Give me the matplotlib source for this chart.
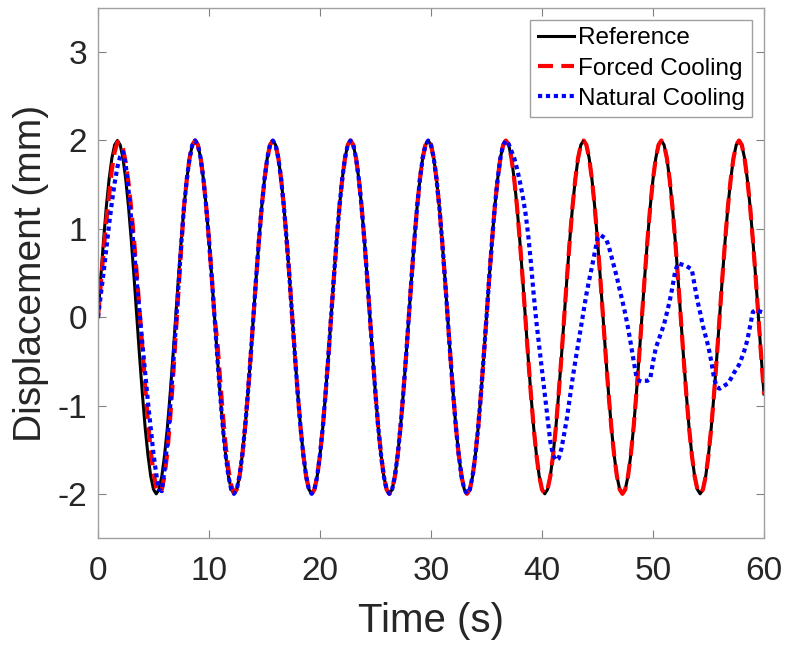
import numpy as np
import matplotlib
matplotlib.use("Agg")
import matplotlib.pyplot as plt

plt.rcParams["font.family"] = ["Liberation Sans", "DejaVu Sans"]
plt.rcParams["axes.unicode_minus"] = False

# Tiempo de muestreo (s), cada 0.25 s
time = np.linspace(0, 60, 241)

# Referencia (mm)
reference = [
    0.00, 0.45, 0.87, 1.25, 1.56, 1.80, 1.95, 2.00, 1.95, 1.80, 1.56, 1.25, 0.87, 0.45,
    0.00, -0.45, -0.87, -1.25, -1.56, -1.80, -1.95, -2.00, -1.95, -1.80, -1.56, -1.25, -0.87, -0.45,
    0.00, 0.45, 0.87, 1.25, 1.56, 1.80, 1.95, 2.00, 1.95, 1.80, 1.56, 1.25, 0.87, 0.45,
    0.00, -0.45, -0.87, -1.25, -1.56, -1.80, -1.95, -2.00, -1.95, -1.80, -1.56, -1.25, -0.87, -0.45,
    0.00, 0.45, 0.87, 1.25, 1.56, 1.80, 1.95, 2.00, 1.95, 1.80, 1.56, 1.25, 0.87, 0.45,
    0.00, -0.45, -0.87, -1.25, -1.56, -1.80, -1.95, -2.00, -1.95, -1.80, -1.56, -1.25, -0.87, -0.45,
    0.00, 0.45, 0.87, 1.25, 1.56, 1.80, 1.95, 2.00, 1.95, 1.80, 1.56, 1.25, 0.87, 0.45,
    0.00, -0.45, -0.87, -1.25, -1.56, -1.80, -1.95, -2.00, -1.95, -1.80, -1.56, -1.25, -0.87, -0.45,
    0.00, 0.45, 0.87, 1.25, 1.56, 1.80, 1.95, 2.00, 1.95, 1.80, 1.56, 1.25, 0.87, 0.45,
    0.00, -0.45, -0.87, -1.25, -1.56, -1.80, -1.95, -2.00, -1.95, -1.80, -1.56, -1.25, -0.87, -0.45,
    0.00, 0.45, 0.87, 1.25, 1.56, 1.80, 1.95, 2.00, 1.95, 1.80, 1.56, 1.25, 0.87, 0.45,
    0.00, -0.45, -0.87, -1.25, -1.56, -1.80, -1.95, -2.00, -1.95, -1.80, -1.56, -1.25, -0.87, -0.45,
    0.00, 0.45, 0.87, 1.25, 1.56, 1.80, 1.95, 2.00, 1.95, 1.80, 1.56, 1.25, 0.87, 0.45,
    0.00, -0.45, -0.87, -1.25, -1.56, -1.80, -1.95, -2.00, -1.95, -1.80, -1.56, -1.25, -0.87, -0.45,
    0.00, 0.45, 0.87, 1.25, 1.56, 1.80, 1.95, 2.00, 1.95, 1.80, 1.56, 1.25, 0.87, 0.45,
    0.00, -0.45, -0.87, -1.25, -1.56, -1.80, -1.95, -2.00, -1.95, -1.80, -1.56, -1.25, -0.87, -0.45,
    0.00, 0.45, 0.87, 1.25, 1.56, 1.80, 1.95, 2.00, 1.95, 1.80, 1.56, 1.25, 0.87, 0.45,
    0.00, -0.45, -0.87,
]

# Enfriamiento forzado: primer ciclo (0-7.5 s) y pequeño retraso en 10.75-12.25 s
forced_start = [
    0.00, 0.37, 0.74, 1.09, 1.38, 1.67, 1.87, 1.98, 1.99, 1.91, 1.75, 1.52, 1.22, 0.87, 0.48, 0.07,
    -0.36, -0.78, -1.18, -1.51, -1.76, -1.93, -2.00, -1.95, -1.79, -1.53, -1.15, -0.71, -0.21, 0.30,
    0.80,
]
forced_lag = [-0.27, -0.70, -1.10, -1.45, -1.72, -1.90, -1.99]

# Enfriamiento natural: primer ciclo (0-7.5 s) y tramo final (36.75-60 s)
natural_start = [
    0.00, 0.25, 0.50, 0.78, 1.05, 1.30, 1.52, 1.70, 1.82, 1.87, 1.72, 1.44, 1.10, 0.74, 0.39, 0.04,
    -0.30, -0.63, -0.96, -1.26, -1.55, -1.78, -1.95, -1.97, -1.72, -1.40, -1.02, -0.58, -0.12, 0.36,
    0.83,
]
natural_tail = [
    2.00,
    1.96, 1.88, 1.80, 1.68, 1.54, 1.38, 1.19, 0.94,
    0.62, 0.26, -0.06, -0.33, -0.61, -0.88, -1.15, -1.41,
    -1.56, -1.62, -1.60, -1.49, -1.32, -1.14, -0.92, -0.70,
    -0.50, -0.31, -0.12, 0.07, 0.26, 0.42, 0.57, 0.73,
    0.89, 0.93, 0.91, 0.89, 0.81, 0.69, 0.57, 0.45,
    0.31, 0.18, 0.04, -0.12, -0.30, -0.49, -0.67, -0.72,
    -0.73, -0.72, -0.72, -0.70, -0.51, -0.35, -0.26, -0.17,
    -0.08, 0.05, 0.18, 0.34, 0.52, 0.61, 0.60, 0.59,
    0.58, 0.56, 0.54, 0.36, 0.19, 0.05, -0.10, -0.22,
    -0.34, -0.50, -0.69, -0.79, -0.81, -0.79, -0.77, -0.75,
    -0.70, -0.64, -0.59, -0.54, -0.46, -0.37, -0.26, -0.10,
    0.06, 0.08, 0.07, 0.06, 0.05,
]

# Donde las curvas coinciden con la referencia se reutilizan sus valores
forced = forced_start + reference[31:43] + forced_lag + reference[50:]
natural = natural_start + reference[31:147] + natural_tail

fig = plt.figure(figsize=(7.89, 6.5), dpi=100)
ax = fig.add_axes([0.1242, 0.1723, 0.8441, 0.8154])

ax.plot(time, reference, color="black", lw=2.2, label="Reference")
ax.plot(time, forced, color="red", lw=3.0, dashes=(3.6, 2.0), label="Forced Cooling")
ax.plot(time, natural, color="blue", lw=3.0, dashes=(1.0, 0.9), label="Natural Cooling")

ax.set_xlim(0, 60)
ax.set_ylim(-2.5, 3.5)
ax.set_xticks([0, 10, 20, 30, 40, 50, 60])
ax.set_yticks([-2, -1, 0, 1, 2, 3])
ax.tick_params(direction="in", top=True, right=True, length=6, width=0.8,
               color="#808080", labelcolor="#262626", labelsize=24)
ax.tick_params(axis="x", pad=13)
ax.tick_params(axis="y", pad=8)
for s in ax.spines.values():
    s.set_color("#a0a0a0")
    s.set_linewidth(1.0)

ax.set_xlabel("Time (s)", fontsize=29, color="#262626", labelpad=11)
ax.set_ylabel("Displacement (mm)", fontsize=28, color="#262626", labelpad=6)

leg = ax.legend(loc="upper right", bbox_to_anchor=(0.982, 0.977), borderaxespad=0,
                fontsize=17.5, handlelength=1.5, handletextpad=0.15, labelspacing=0.33,
                borderpad=0.3, fancybox=False, framealpha=1)
leg.get_frame().set_edgecolor("#a0a0a0")
leg.get_frame().set_linewidth(1.0)

fig.savefig("out.png", dpi=100)
